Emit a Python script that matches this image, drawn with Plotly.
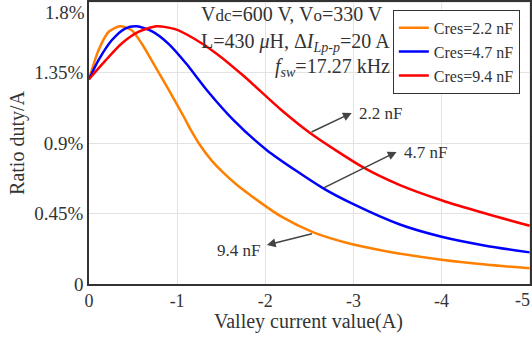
import plotly.graph_objects as go

# Valley current (A) and duty-ratio sensitivity (% per A) for each resonant capacitance
x_22 = [0, -0.108, -0.221, -0.353, -0.485, -0.598, -0.75, -0.9, -1.074, -1.15,
        -1.263, -1.39, -1.527, -1.68, -1.829, -2.169, -2.546, -3.0, -3.414, -4.0,
        -4.5, -5.0]
y_22 = [1.308, 1.493, 1.61, 1.646, 1.621, 1.536, 1.39, 1.245, 1.07, 0.99,
        0.885, 0.79, 0.71, 0.632, 0.568, 0.435, 0.33, 0.252, 0.205, 0.155,
        0.124, 0.10]

x_47 = [0, -0.108, -0.258, -0.41, -0.541, -0.711, -0.9, -1.1, -1.338, -1.64,
        -2.018, -2.659, -3.0, -3.528, -4.0, -4.5, -5.0]
y_47 = [1.308, 1.43, 1.557, 1.632, 1.646, 1.615, 1.536, 1.41, 1.238, 1.047,
        0.855, 0.611, 0.51, 0.38, 0.302, 0.245, 0.202]

x_94 = [0, -0.183, -0.371, -0.56, -0.768, -0.976, -1.2, -1.452, -1.753, -2.169,
        -2.508, -3.112, -3.528, -4.0, -4.5, -5.0]
y_94 = [1.308, 1.425, 1.536, 1.61, 1.646, 1.628, 1.565, 1.47, 1.33, 1.118,
        0.965, 0.745, 0.632, 0.535, 0.45, 0.372]

series_names = ["Cres=2.2 nF", "Cres=4.7 nF", "Cres=9.4 nF"]
series_colors = ["#FF8000", "#0000FF", "#FF0000"]

x_ticks = [0, -1, -2, -3, -4, -5]
x_tick_text = ["0", "-1", "-2", "-3", "-4", "-5"]
y_ticks = [0, 0.45, 0.9, 1.35, 1.8]
y_tick_text = ["0", "0.45%", "0.9%", "1.35%", "1.8%"]

FONT = "Liberation Serif, Times New Roman, serif"
TXT = "#333333"

fig = go.Figure()
for xs, ys, name, color in zip([x_22, x_47, x_94], [y_22, y_47, y_94],
                               series_names, series_colors):
    fig.add_trace(go.Scatter(
        x=xs, y=ys, mode="lines", name=name,
        line=dict(color=color, width=2.5, shape="spline", smoothing=0.7),
    ))

# arrow callouts (head, tail) and their labels
callouts = [
    dict(head=(-2.981, 1.093), tail=(-2.508, 0.966), label="2.2 nF",
         pos=(-3.04, 1.091), anchor="left"),
    dict(head=(-3.49, 0.844), tail=(-2.652, 0.611), label="4.7 nF",
         pos=(-3.55, 0.842), anchor="left"),
    dict(head=(-2.018, 0.249), tail=(-2.546, 0.324), label="9.4 nF",
         pos=(-1.96, 0.217), anchor="right"),
]
for c in callouts:
    fig.add_annotation(
        x=c["head"][0], y=c["head"][1], ax=c["tail"][0], ay=c["tail"][1],
        xref="x", yref="y", axref="x", ayref="y", text="",
        showarrow=True, arrowhead=2, arrowsize=1.1, arrowwidth=1.6,
        arrowcolor="#444444",
    )
    fig.add_annotation(
        x=c["pos"][0], y=c["pos"][1], xref="x", yref="y", text=c["label"],
        showarrow=False, xanchor=c["anchor"], yanchor="middle",
        font=dict(family=FONT, size=17, color=TXT),
    )

# operating conditions
cond = [
    ("V<span style='font-size:17px'>dc</span>=600 V, V<span style='font-size:17px'>o</span>=330 V",
     -3.358, 1.725),
    ("L=430 <i>μ</i>H, Δ<i>I</i><sub><i>Lp-p</i></sub>=20 A", -3.437, 1.545),
    ("<i>f</i><sub><i>sw</i></sub>=17.27 kHz", -3.437, 1.38),
]
for txt, xx, yy in cond:
    fig.add_annotation(
        x=xx, y=yy, xref="x", yref="y", text=txt, showarrow=False,
        xanchor="right", yanchor="middle",
        font=dict(family=FONT, size=20, color=TXT),
    )

# edge tick labels, kept inside the page
fig.add_annotation(
    x=-0.004, y=0.963, xref="paper", yref="paper", text=y_tick_text[-1],
    showarrow=False, xanchor="right", yanchor="middle",
    font=dict(family=FONT, size=19, color=TXT),
)
fig.add_annotation(
    x=1.0045, y=-0.057, xref="paper", yref="paper", text=x_tick_text[-1],
    showarrow=False, xanchor="right", yanchor="middle",
    font=dict(family=FONT, size=18, color=TXT),
)

# x-axis title
fig.add_annotation(
    x=0.498, y=-0.132, xref="paper", yref="paper", text="Valley current value(A)",
    showarrow=False, xanchor="center", yanchor="middle",
    font=dict(family=FONT, size=20, color=TXT),
)

axis_common = dict(
    showline=True, linecolor="#333333", linewidth=1.5, mirror=True,
    showgrid=True, gridcolor="#E3E3E3", gridwidth=1,
    zeroline=False, ticks="", ticklen=0, automargin=False,
)

fig.update_xaxes(
    range=[0.0, -5.004], tickvals=x_ticks[:-1], ticktext=x_tick_text[:-1],
    tickfont=dict(family=FONT, size=18, color=TXT),
    **axis_common,
)
fig.update_yaxes(
    range=[0, 1.8015], tickvals=y_ticks[:-1], ticktext=y_tick_text[:-1],
    tickfont=dict(family=FONT, size=19, color=TXT),
    title=dict(text="Ratio duty/A", font=dict(family=FONT, size=20, color=TXT),
               standoff=4),
    **axis_common,
)
# gridlines for the edge ticks (labels drawn separately above)
fig.add_hline(y=y_ticks[-1], line=dict(color="#E3E3E3", width=1), layer="below")
fig.add_vline(x=x_ticks[-1], line=dict(color="#E3E3E3", width=1), layer="below")

fig.update_layout(
    width=532, height=338,
    margin=dict(l=89, r=2, t=2, b=54),
    paper_bgcolor="white", plot_bgcolor="white",
    showlegend=True,
    legend=dict(
        x=0.689, y=0.972, xanchor="left", yanchor="top",
        bordercolor="#333333", borderwidth=1, bgcolor="white",
        font=dict(family=FONT, size=16, color=TXT),
        itemwidth=30, tracegroupgap=0,
    ),
)

fig.write_html("out.html")
